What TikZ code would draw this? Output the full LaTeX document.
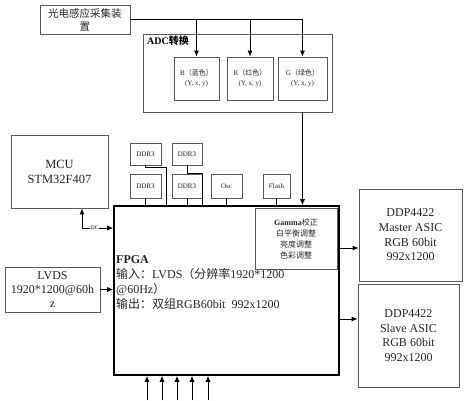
\documentclass[tikz,border=0pt]{standalone}
\usepackage{fontspec}
\setmainfont{Liberation Serif}
\newfontfamily\cjk{Noto Sans CJK SC}
\newcommand\zh[1]{{\cjk #1}}
\usetikzlibrary{arrows.meta}
\begin{document}
\begin{tikzpicture}[x=1pt,y=-1pt,
  box/.style={draw=black!65, line width=0.8pt, inner sep=0pt, align=center, text=black!85},
  wire/.style={draw=black, line width=0.8pt},
  arr/.style={wire, -{Latex[length=6pt,width=5pt]}},
  fs/.style={font=\fontsize{#1}{#1}\selectfont}
]
\useasboundingbox (0,0) rectangle (467,400);
% sensor
\node[box, minimum width=90, minimum height=29, font=\fontsize{10.5}{13}\selectfont] (sensor) at (85,19.5) {\zh{光电感应采集装}\\\zh{置}};
% ADC
\node[box, minimum width=189, minimum height=78] (adc) at (237.5,73) {};
\node[anchor=north west, inner sep=0pt, font=\fontsize{10}{12}\selectfont\bfseries] (adclbl) at (147,36) {ADC\zh{转换}};
\node[box, minimum width=45, minimum height=43, font=\fontsize{7}{10}\selectfont] (B) at (196.5,78.5) {B\zh{（蓝色）}\\(Y, x, y)};
\node[box, minimum width=46, minimum height=43, font=\fontsize{7}{10}\selectfont] (R) at (250,78.5) {R\zh{（红色）}\\(Y, x, y)};
\node[box, minimum width=49, minimum height=43, font=\fontsize{7}{10}\selectfont] (G) at (302.5,78.5) {G\zh{（绿色）}\\(Y, x, y)};
% MCU
\node[box, minimum width=97, minimum height=73, font=\fontsize{12.5}{15}\selectfont] (mcu) at (59.5,171.5) {MCU\\STM32F407};
% DDR etc
\node[box, minimum width=31, minimum height=22, font=\fontsize{7}{8}\selectfont] (d1) at (145.5,154) {DDR3};
\node[box, minimum width=30, minimum height=22, font=\fontsize{7}{8}\selectfont] (d2) at (187,154) {DDR3};
\node[box, minimum width=31, minimum height=24, font=\fontsize{7}{8}\selectfont] (d3) at (145.5,186) {DDR3};
\node[box, minimum width=30, minimum height=24, font=\fontsize{7}{8}\selectfont] (d4) at (187,186) {DDR3};
\node[box, minimum width=31, minimum height=24, font=\fontsize{7}{8}\selectfont] (osc) at (226.5,186) {Osc};
\node[box, minimum width=27, minimum height=24, font=\fontsize{7}{8}\selectfont] (flash) at (276.5,186) {Flash};
% FPGA
\node[draw=black, line width=1.6pt, minimum width=225, minimum height=169, inner sep=0pt] (fpga) at (226.5,290.5) {};
\node[box, minimum width=82, minimum height=61, font=\fontsize{8}{11}\selectfont] (gamma) at (296,238.5) {\textbf{Gamma}\zh{校正}\\\zh{白平衡调整}\\\zh{亮度调整}\\\zh{色彩调整}};
\node[anchor=west, inner sep=0pt, align=left, text=black!85, font=\fontsize{12}{15.3}\selectfont] (fpgatxt) at (116,282.5) {\textbf{FPGA}\\\zh{输入：}LVDS\zh{（分辨率}1920*1200\\@60Hz\zh{）}\\\zh{输出：双组}RGB60bit\ \ 992x1200};
% LVDS
\node[box, minimum width=95, minimum height=45, font=\fontsize{12}{14}\selectfont] (lvds) at (52.5,289.5) {LVDS\\1920*1200@60h\\z};
% DDP
\node[box, minimum width=103, minimum height=92, font=\fontsize{12}{14.7}\selectfont] (master) at (410.5,235) {DDP4422\\Master ASIC\\RGB 60bit\\992x1200};
\node[box, minimum width=101, minimum height=103, font=\fontsize{12}{14.7}\selectfont] (slave) at (408.5,335.5) {DDP4422\\Slave ASIC\\RGB 60bit\\992x1200};
% connectors sensor -> ADC
\draw[wire] (sensor.east) -- (G.north |- sensor.east);
\draw[arr] (G.north |- sensor.east) -- (G.north);
\draw[arr] (B.north |- sensor.east) -- (B.north);
\draw[arr] (R.north |- sensor.east) -- (R.north);
\draw[arr] (G.south |- adc.south) -- (G.south |- fpga.north);
% I2C
\coordinate (i2c) at (82,228);
\draw[arr] (i2c) -- (i2c |- mcu.south);
\draw[arr] (i2c) -- (i2c -| fpga.west) node[pos=0.4, fill=white, inner sep=0.5pt, font=\fontsize{5.5}{6}\selectfont] {I2C};
% DDR wires
\coordinate (w1) at (166,167);
\draw[wire] (d1.south) |- (w1) -- (w1 |- fpga.north);
\draw[wire] (d3.south) -- (d3.south |- fpga.north);
\draw[wire] (d2.south) -- (d2.south |- d4.north) -- (d4.north east) -- (d4.north east |- fpga.north);
\draw[wire] (d4.south) -- (d4.south |- fpga.north);
\draw[wire] (osc.south) -- (osc.south |- fpga.north);
\draw[wire] (flash.south) -- (flash.south |- fpga.north);
% LVDS in
\draw[arr] (lvds.east) -- (lvds.east -| fpga.west);
% outputs
\coordinate (o1) at (339,248);
\coordinate (o2) at (339,319);
\draw[arr] (o1) -- (o1 -| master.west);
\draw[arr] (o2) -- (o2 -| slave.west);
% bottom inputs
\foreach \x [count=\i] in {147,162,177,192,208} {
  \coordinate (b\i) at (\x,400);
  \draw[arr] (b\i) -- (b\i |- fpga.south);
}
\end{tikzpicture}
\end{document}
